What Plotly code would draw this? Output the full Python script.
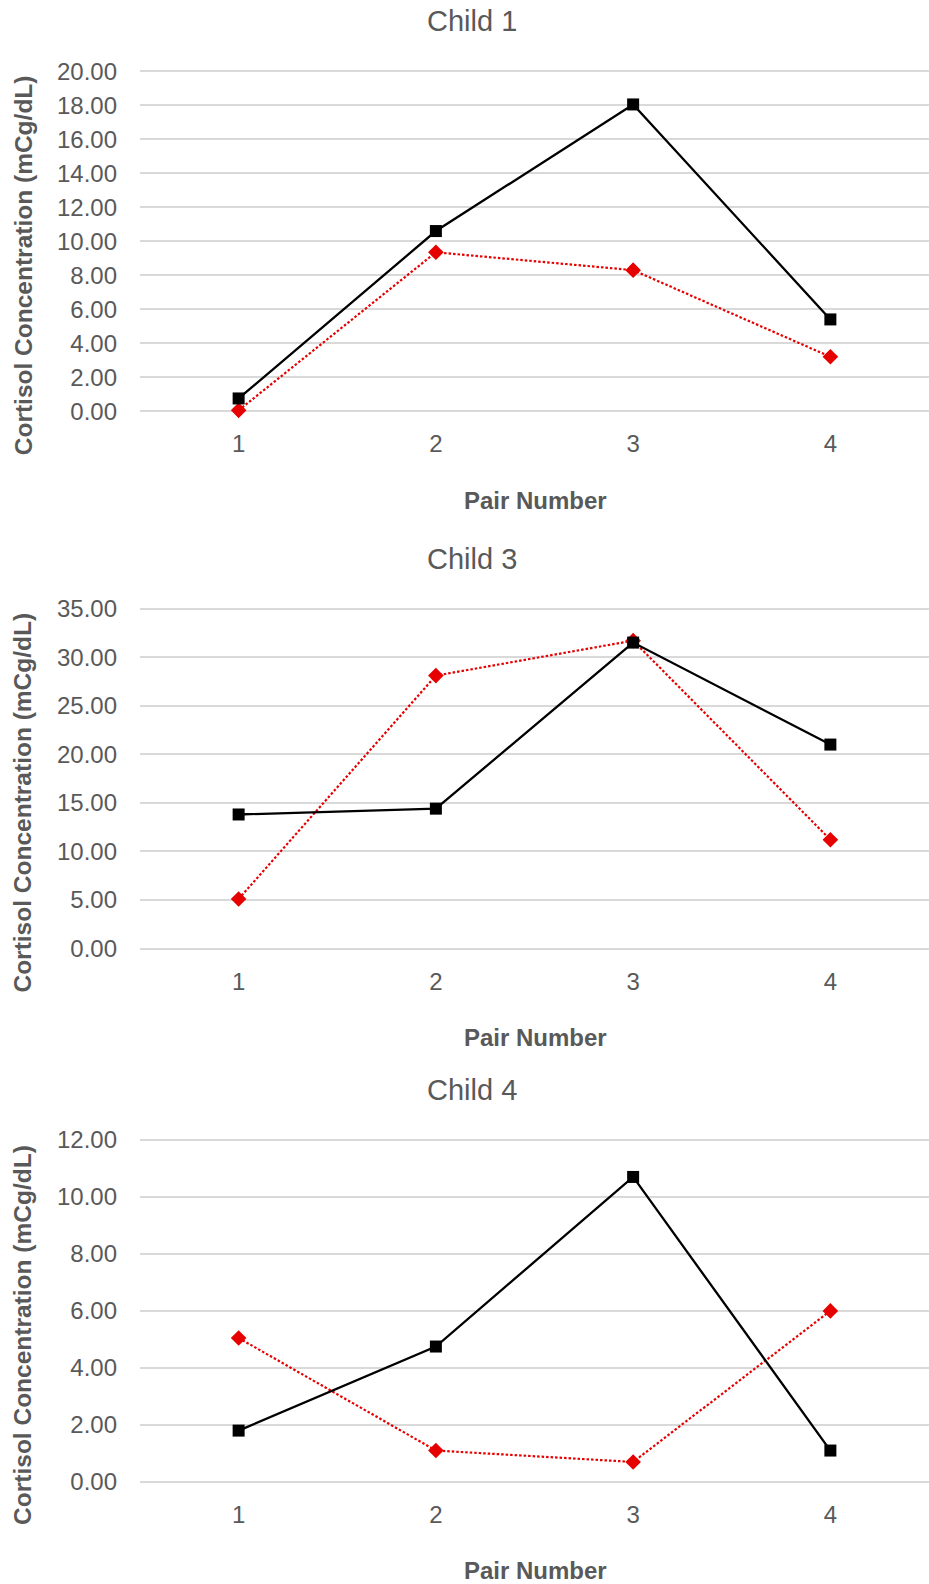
import plotly.graph_objects as go

# Cortisol readings per pair, for each child
pairs = [1, 2, 3, 4]
children = ["Child 1", "Child 3", "Child 4"]
black_series = {
    "Child 1": [0.75, 10.6, 18.05, 5.4],
    "Child 3": [13.8, 14.4, 31.5, 21.0],
    "Child 4": [1.8, 4.75, 10.7, 1.1],
}
red_series = {
    "Child 1": [0.05, 9.35, 8.3, 3.2],
    "Child 3": [5.1, 28.1, 31.7, 11.2],
    "Child 4": [5.05, 1.1, 0.7, 6.0],
}
y_max = {"Child 1": 20, "Child 3": 35, "Child 4": 12}
y_step = {"Child 1": 2, "Child 3": 5, "Child 4": 2}

W, H = 929, 1584
# pixel rows of the top and bottom gridline of each panel
panel_rows = {"Child 1": (71.3, 411.2), "Child 3": (608.6, 948.5), "Child 4": (1139.9, 1481.9)}
plot_left = 140
# small padding so the first and last gridlines are drawn inside the plot area
PAD = 0.006

GREY = "#595959"
FONT = "Arial, Liberation Sans, sans-serif"


def py(px):
    return 1 - px / H


def px_x(px):
    return px / W


fig = go.Figure()
annotations = []

for i, child in enumerate(children):
    n = i + 1
    xa = "x" if n == 1 else f"x{n}"
    ya = "y" if n == 1 else f"y{n}"
    top, bottom = panel_rows[child]
    span = bottom - top
    ymax = y_max[child]

    fig.add_trace(go.Scatter(
        x=pairs, y=red_series[child], xaxis=xa, yaxis=ya,
        mode="lines+markers", cliponaxis=False, showlegend=False,
        line=dict(color="#e60000", width=2.2, dash="2.5px,2px"),
        marker=dict(symbol="diamond", size=12, color="#e60000"),
    ))
    fig.add_trace(go.Scatter(
        x=pairs, y=black_series[child], xaxis=xa, yaxis=ya,
        mode="lines+markers", cliponaxis=False, showlegend=False,
        line=dict(color="#000000", width=2.3),
        marker=dict(symbol="square", size=12, color="#000000"),
    ))

    fig.update_layout({
        f"xaxis{'' if n == 1 else n}": dict(
            domain=[px_x(plot_left), 1], range=[0.5, 4.5], anchor=ya,
            tickmode="array", tickvals=pairs, ticktext=[str(p) for p in pairs],
            showgrid=False, zeroline=False, showline=False, ticks="",
            tickfont=dict(family=FONT, size=24, color=GREY),
            ticklabelstandoff=14, automargin=False,
        ),
        f"yaxis{'' if n == 1 else n}": dict(
            domain=[py(bottom + PAD * span), py(top - PAD * span)],
            range=[-PAD * ymax, (1 + PAD) * ymax], anchor=xa,
            tickmode="linear", tick0=0, dtick=y_step[child], tickformat=".2f",
            showgrid=True, gridcolor="#d9d9d9", gridwidth=2,
            zeroline=False, showline=False, ticks="",
            tickfont=dict(family=FONT, size=24, color=GREY),
            ticklabelstandoff=22, automargin=False,
        ),
    })

    # panel title
    annotations.append(dict(
        text=child, xref="paper", yref="paper", x=px_x(472), y=py(top - 50),
        xanchor="center", yanchor="middle", showarrow=False,
        font=dict(family=FONT, size=29, color=GREY),
    ))
    # x axis title
    annotations.append(dict(
        text="<b>Pair Number</b>", xref="paper", yref="paper",
        x=px_x(535), y=py(bottom + 89),
        xanchor="center", yanchor="middle", showarrow=False,
        font=dict(family=FONT, size=24, color=GREY),
    ))
    # y axis title
    annotations.append(dict(
        text="<b>Cortisol Concentration (mCg/dL)</b>", xref="paper", yref="paper",
        x=px_x(23), y=py((top + bottom) / 2 + 24), textangle=-90,
        xanchor="center", yanchor="middle", showarrow=False,
        font=dict(family=FONT, size=24.5, color=GREY),
    ))

fig.update_layout(
    width=W, height=H,
    margin=dict(l=0, r=0, t=0, b=0, autoexpand=False),
    paper_bgcolor="white", plot_bgcolor="white",
    annotations=annotations,
)

fig.write_html("out.html")
